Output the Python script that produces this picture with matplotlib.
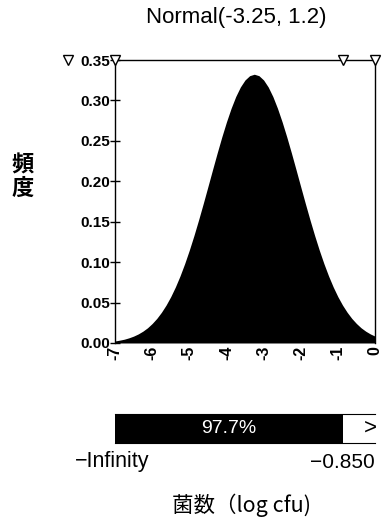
import matplotlib
matplotlib.use("Agg")
import matplotlib.pyplot as plt

plt.rcParams['font.family'] = ['Liberation Sans', 'Noto Sans CJK JP', 'DejaVu Sans']

# DATA (density)
x_vals = [-7.0, -6.875, -6.75, -6.625, -6.5, -6.375, -6.25, -6.125, -6.0,
          -5.875, -5.75, -5.625, -5.5, -5.375, -5.25, -5.125, -5.0,
          -4.875, -4.75, -4.625, -4.5, -4.375, -4.25, -4.125, -4.0,
          -3.875, -3.75, -3.625, -3.5, -3.375, -3.25, -3.125, -3.0,
          -2.875, -2.75, -2.625, -2.5, -2.375, -2.25, -2.125, -2.0,
          -1.875, -1.75, -1.625, -1.5, -1.375, -1.25, -1.125, -1.0,
          -0.875, -0.75, -0.625, -0.5, -0.375, -0.25, -0.125, 0.0]
density = [0.0025, 0.0035, 0.0047, 0.0064, 0.0085, 0.0112, 0.0146, 0.0188, 0.0241,
           0.0304, 0.0380, 0.0469, 0.0573, 0.0693, 0.0829, 0.0981, 0.1148,
           0.1329, 0.1522, 0.1724, 0.1932, 0.2142, 0.2349, 0.2548, 0.2734,
           0.2902, 0.3048, 0.3166, 0.3253, 0.3306, 0.3324, 0.3306, 0.3253,
           0.3166, 0.3048, 0.2902, 0.2734, 0.2548, 0.2349, 0.2142, 0.1932,
           0.1724, 0.1522, 0.1329, 0.1148, 0.0981, 0.0829, 0.0693, 0.0573,
           0.0469, 0.0380, 0.0304, 0.0241, 0.0188, 0.0146, 0.0112, 0.0085]
xticks = [-7, -6, -5, -4, -3, -2, -1, 0]
yticks = [0.00, 0.05, 0.10, 0.15, 0.20, 0.25, 0.30, 0.35]
cutoff = -0.85
pct = 97.7
title = "Normal(-3.25, 1.2)"

W, H = 382, 522
fig = plt.figure(figsize=(W/100, H/100), dpi=100)

def box(l, t, r, b):
    return [l/W, 1-b/H, (r-l)/W, (b-t)/H]

ax = fig.add_axes(box(115, 60, 375, 343))
ax.fill_between(x_vals, density, 0, color='black', lw=0)
ax.set_xlim(-7, 0)
ax.set_ylim(0, 0.35)
ax.set_xticks(xticks)
ax.set_xticklabels([str(t) for t in xticks], rotation=90, fontsize=11.5, fontweight='bold')
ax.set_yticks(yticks)
ax.set_yticklabels(['%.2f' % t for t in yticks], fontsize=11, fontweight='bold')
ax.tick_params(axis='y', direction='inout', length=7, width=1, pad=0)
ax.tick_params(axis='x', length=0, pad=2)
ax.spines['bottom'].set_visible(False)
for s in ['left', 'top', 'right']:
    ax.spines[s].set_linewidth(1)
    ax.spines[s].set_color('black')

# boundary markers on top
for xv in [-7, cutoff, 0]:
    ax.plot([xv], [0.35], marker='v', ms=7, mfc='white', mec='black', mew=1,
            clip_on=False, zorder=5)
ax.plot([-0.18], [1.0], marker='v', ms=7, mfc='white', mec='black', mew=1,
        transform=ax.transAxes, clip_on=False)

fig.text(236/W, 1-18/H, title, fontsize=16, ha='center', va='center')
fig.text(23/W, 1-177/H, "頻\n度", fontsize=16, fontweight='bold',
         family=['Noto Sans CJK JP'], ha='center', va='center', linespacing=1.0)

# probability bar
bx = fig.add_axes(box(115, 414, 375, 443))
bx.barh(0, cutoff - (-7), left=-7, height=1, color='black')
bx.set_xlim(-7, 0)
bx.set_ylim(-0.5, 0.5)
bx.set_xticks([])
bx.set_yticks([])
bx.spines['left'].set_visible(False)
bx.spines['right'].set_visible(False)
bx.text((-7 + cutoff) / 2, 0, "%.1f%%" % pct, color='white', fontsize=14,
        ha='center', va='center')
bx.text(-0.12, 0, ">", fontsize=16, ha='center', va='center')

fig.text(75/W, 1-462/H, "\u2212Infinity", fontsize=15.5, ha='left', va='center')
fig.text(375/W, 1-462/H, "\u22120.850", fontsize=15, ha='right', va='center')
fig.text(242/W, 1-505/H, "菌数（log cfu)", fontsize=15.5, ha='center', va='center',
         family=['Noto Sans CJK JP', 'Liberation Sans'])

fig.savefig("out.png", dpi=100)
